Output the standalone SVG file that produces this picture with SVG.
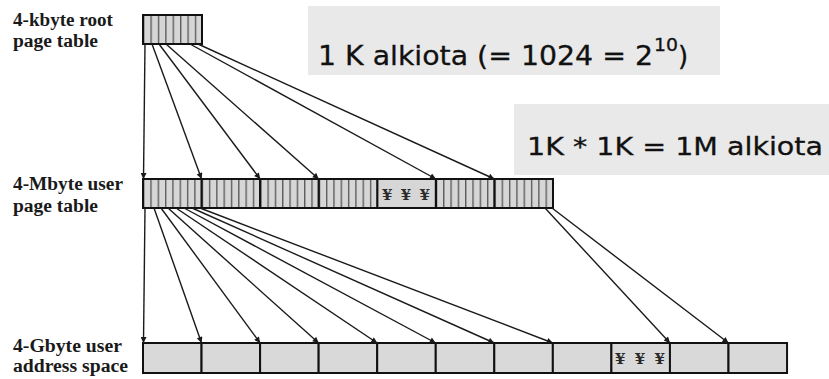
<svg xmlns="http://www.w3.org/2000/svg" width="829" height="379" viewBox="0 0 829 379">
<style>
.lbl{font-family:"Liberation Serif","Times New Roman",serif;font-weight:bold;font-size:18px;fill:#1a1a1a}
.note{font-family:"DejaVu Sans","Liberation Sans",sans-serif;fill:#111;stroke:#111;stroke-width:0.3}
.yen{font-family:"DejaVu Serif","Liberation Serif",serif;font-weight:bold;font-size:15px;fill:#2a2a2a}
.tbl{stroke:#111;stroke-width:2}
.div{stroke:#111;stroke-width:2.2}
.cell{fill:#d9d9d9;stroke:#111;stroke-width:2}
.arr{stroke:#1a1a1a;stroke-width:1.4;fill:none;marker-end:url(#ah)}
</style>
<defs>
<marker id="ah" viewBox="0 0 10 10" refX="10" refY="5" markerWidth="7" markerHeight="6" markerUnits="userSpaceOnUse" orient="auto">
<path d="M0,0 L10,5 L0,10 z" fill="#1a1a1a"/>
</marker>
<pattern id="stripeRoot" patternUnits="userSpaceOnUse" x="143" y="0" width="7.4" height="10">
<rect width="7.4" height="10" fill="#d6d6d6"/>
<line x1="0.7" y1="0" x2="0.7" y2="10" stroke="#555" stroke-width="1.3"/>
</pattern>
<pattern id="stripeMid" patternUnits="userSpaceOnUse" x="143" y="0" width="7.3187" height="10">
<rect width="7.3187" height="10" fill="#d6d6d6"/>
<line x1="0.7" y1="0" x2="0.7" y2="10" stroke="#555" stroke-width="1.3"/>
</pattern>
</defs>

<g id="labels">
<text class="lbl" x="13" y="25.5" textLength="100" lengthAdjust="spacingAndGlyphs">4-kbyte root</text>
<text class="lbl" x="13" y="47" textLength="85" lengthAdjust="spacingAndGlyphs">page table</text>
<text class="lbl" x="13" y="190" textLength="110" lengthAdjust="spacingAndGlyphs">4-Mbyte user</text>
<text class="lbl" x="13" y="211.5" textLength="85" lengthAdjust="spacingAndGlyphs">page table</text>
<text class="lbl" x="13" y="352" textLength="109" lengthAdjust="spacingAndGlyphs">4-Gbyte user</text>
<text class="lbl" x="13" y="372" textLength="115" lengthAdjust="spacingAndGlyphs">address space</text>
</g>

<g id="note1">
<rect x="308" y="6" width="412" height="69" fill="#e9e9e9"/>
<text class="note" x="318" y="65" font-size="26" textLength="335" lengthAdjust="spacingAndGlyphs">1 K alkiota (= 1024 = 2</text>
<text class="note" x="654" y="51" font-size="18" textLength="24" lengthAdjust="spacingAndGlyphs">10</text>
<text class="note" x="678" y="65" font-size="26">)</text>
</g>

<g id="note2">
<rect x="514" y="104" width="315" height="71" fill="#e9e9e9"/>
<text class="note" x="527" y="155" font-size="24" textLength="296" lengthAdjust="spacingAndGlyphs">1K * 1K = 1M alkiota</text>
</g>

<g id="root-table">
<rect x="143" y="15" width="59" height="29" fill="url(#stripeRoot)"/>
<rect x="143" y="15" width="59" height="29" fill="none" class="tbl"/>
</g>

<g id="user-page-table">
<rect x="143" y="179" width="410" height="29" fill="url(#stripeMid)"/>
<rect x="377.3" y="179" width="58.6" height="29" fill="#d6d6d6"/>
<text class="yen" x="382" y="200" textLength="48" lengthAdjust="spacing">¥ ¥ ¥</text>
<g class="div">
<line x1="201.6" y1="179" x2="201.6" y2="208"/>
<line x1="260.1" y1="179" x2="260.1" y2="208"/>
<line x1="318.7" y1="179" x2="318.7" y2="208"/>
<line x1="377.3" y1="179" x2="377.3" y2="208"/>
<line x1="435.9" y1="179" x2="435.9" y2="208"/>
<line x1="494.4" y1="179" x2="494.4" y2="208"/>
</g>
<rect x="143" y="179" width="410" height="29" fill="none" class="tbl"/>
</g>

<g id="address-space">
<rect class="cell" x="143" y="343" width="58.55" height="30"/>
<rect class="cell" x="201.55" y="343" width="58.55" height="30"/>
<rect class="cell" x="260.1" y="343" width="58.55" height="30"/>
<rect class="cell" x="318.65" y="343" width="58.55" height="30"/>
<rect class="cell" x="377.2" y="343" width="58.55" height="30"/>
<rect class="cell" x="435.75" y="343" width="58.55" height="30"/>
<rect class="cell" x="494.3" y="343" width="58.55" height="30"/>
<rect class="cell" x="552.85" y="343" width="58.55" height="30"/>
<rect class="cell" x="611.4" y="343" width="58.55" height="30"/>
<rect class="cell" x="669.95" y="343" width="58.55" height="30"/>
<rect class="cell" x="728.5" y="343" width="58.55" height="30"/>
<text class="yen" x="615" y="364" textLength="50" lengthAdjust="spacing">¥ ¥ ¥</text>
</g>

<g id="connectors">
<line class="arr" x1="145" y1="44" x2="143.5" y2="179"/>
<line class="arr" x1="152" y1="44" x2="201.6" y2="179"/>
<line class="arr" x1="159" y1="44" x2="260.1" y2="179"/>
<line class="arr" x1="166" y1="44" x2="318.7" y2="179"/>
<line class="arr" x1="190" y1="44" x2="435.9" y2="179"/>
<line class="arr" x1="198" y1="44" x2="494.4" y2="179"/>

<line class="arr" x1="145" y1="208" x2="143.5" y2="343"/>
<line class="arr" x1="154" y1="208" x2="201.55" y2="343"/>
<line class="arr" x1="161" y1="208" x2="260.1" y2="343"/>
<line class="arr" x1="168" y1="208" x2="318.65" y2="343"/>
<line class="arr" x1="176" y1="208" x2="377.2" y2="343"/>
<line class="arr" x1="184" y1="208" x2="435.75" y2="343"/>
<line class="arr" x1="192" y1="208" x2="494.3" y2="343"/>
<line class="arr" x1="200" y1="208" x2="552.85" y2="343"/>
<line class="arr" x1="545" y1="208" x2="669.95" y2="343"/>
<line class="arr" x1="552" y1="208" x2="728.5" y2="343"/>
</g>
</svg>
